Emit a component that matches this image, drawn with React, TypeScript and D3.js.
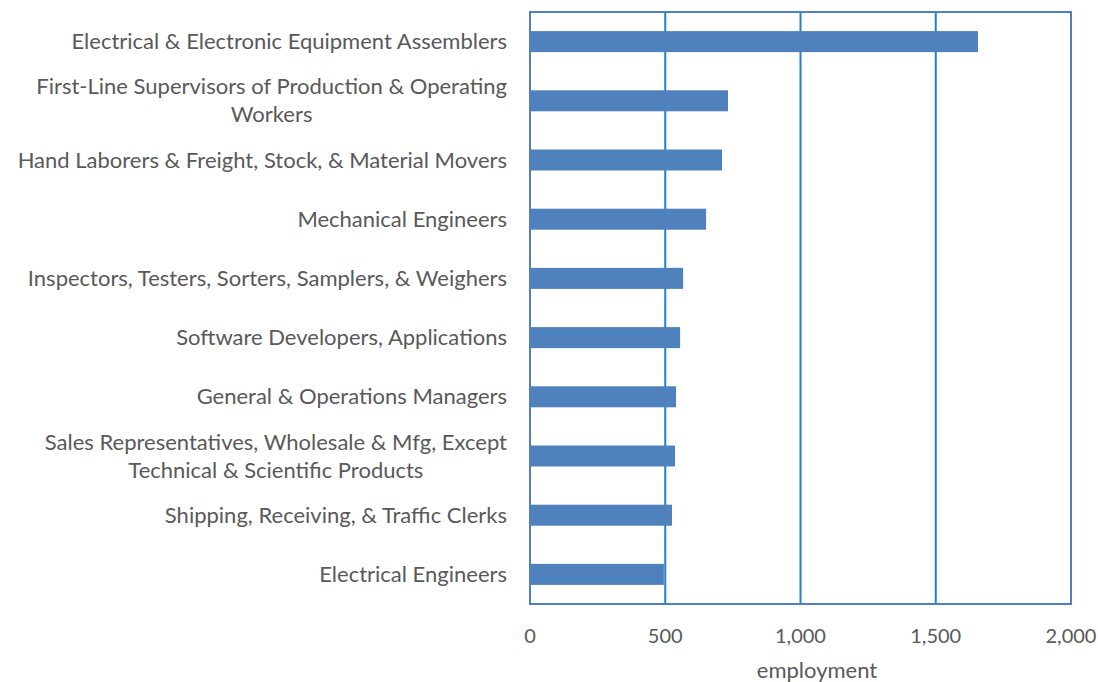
import React, { useEffect, useRef } from "react";
import * as d3 from "d3";

const categories: string[][] = [
  ["Electrical & Electronic Equipment Assemblers"],
  ["First-Line Supervisors of Production & Operating", "Workers"],
  ["Hand Laborers & Freight, Stock, & Material Movers"],
  ["Mechanical Engineers"],
  ["Inspectors, Testers, Sorters, Samplers, & Weighers"],
  ["Software Developers, Applications"],
  ["General & Operations Managers"],
  ["Sales Representatives, Wholesale & Mfg, Except", "Technical & Scientific Products"],
  ["Shipping, Receiving, & Traffic Clerks"],
  ["Electrical Engineers"],
];
const values: number[] = [1656, 732, 710, 651, 566, 555, 540, 536, 525, 495];
const xTicks: number[] = [0, 500, 1000, 1500, 2000];
const axisTitle = "employment";

const W = 1098, H = 682;
const M = { left: 530, right: 1071, top: 12, bottom: 604 };
const FONT = "Lato, 'Open Sans', sans-serif";
const TEXT = "#595959";

export default function App() {
  const ref = useRef<SVGSVGElement>(null);
  useEffect(() => {
    const svg = d3.select(ref.current);
    svg.selectAll("*").remove();
    const x = d3.scaleLinear().domain([0, 2000]).range([M.left, M.right]);
    const y = d3.scaleBand<number>().domain(d3.range(categories.length)).range([M.top, M.bottom]).paddingInner(0.645).paddingOuter(0.3225);

    // gridlines
    svg.append("g").selectAll("line").data(xTicks.filter(t => t > 0 && t < 2000)).join("line")
      .attr("x1", d => x(d)).attr("x2", d => x(d)).attr("y1", M.top).attr("y2", M.bottom)
      .attr("stroke", "#1f80d0").attr("stroke-width", 2);

    // bars
    svg.append("g").selectAll("rect").data(values).join("rect")
      .attr("x", x(0)).attr("y", (_, i) => y(i)!)
      .attr("width", d => x(d) - x(0)).attr("height", y.bandwidth())
      .attr("fill", "#4f81bd");

    // frame
    svg.append("rect").attr("x", M.left).attr("y", M.top).attr("width", M.right - M.left).attr("height", M.bottom - M.top)
      .attr("fill", "none").attr("stroke", "#4f81bd").attr("stroke-width", 2);

    // tick labels
    svg.append("g").selectAll("text").data(xTicks).join("text")
      .attr("x", d => x(d)).attr("y", 643).attr("text-anchor", "middle")
      .attr("font-family", FONT).attr("font-size", 20).attr("fill", TEXT)
      .text(d => d3.format(",")(d));

    svg.append("text").attr("x", 817).attr("y", 678).attr("text-anchor", "middle")
      .attr("font-family", FONT).attr("font-size", 22).attr("fill", TEXT).text(axisTitle);

    // category labels
    const labelRight = 507;
    const lh = 28;
    categories.forEach((lines, i) => {
      const cy = y(i)! + y.bandwidth() / 2;
      const g = svg.append("g");
      const texts = lines.map((ln, j) => g.append("text")
        .attr("y", cy + (j - (lines.length - 1) / 2) * lh + 7.5)
        .attr("font-family", FONT).attr("font-size", 22).attr("fill", TEXT).text(ln));
      const widths = texts.map(t => (t.node() as SVGTextElement).getComputedTextLength());
      const maxW = Math.max(...widths);
      const center = labelRight - maxW / 2;
      texts.forEach(t => t.attr("x", center).attr("text-anchor", "middle"));
    });
  }, []);
  return <svg ref={ref} width={W} height={H} style={{ position: "absolute", left: 0, top: 0, background: "#fff" }} />;
}
